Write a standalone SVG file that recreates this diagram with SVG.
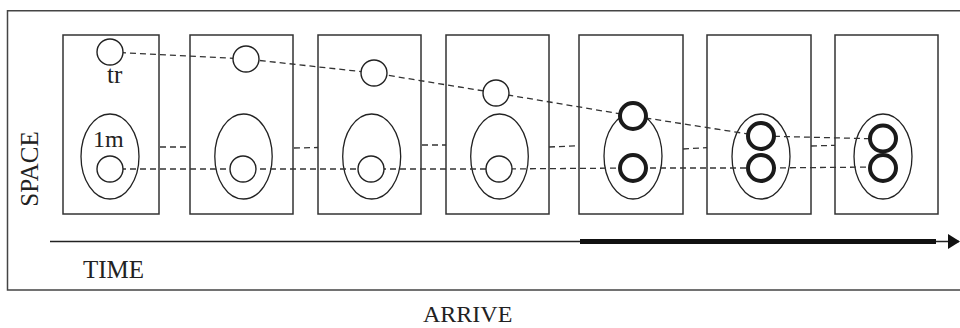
<svg xmlns="http://www.w3.org/2000/svg" width="960" height="328" viewBox="0 0 960 328">
<style>
.panel{fill:#fff;stroke:#333;stroke-width:1.5}
.ell{fill:none;stroke:#222;stroke-width:1.3}
.c{fill:#fff;stroke:#222;stroke-width:1.4}
.ct{fill:#fff;stroke:#1a1a1a;stroke-width:4}
.dash{fill:none;stroke:#333;stroke-width:1.3;stroke-dasharray:6 4}
text{font-family:"Liberation Serif","Times New Roman",serif;fill:#222}
</style>
<defs>
<marker id="ah" markerWidth="12" markerHeight="16" refX="11" refY="8" orient="auto" markerUnits="userSpaceOnUse">
<path d="M0,0.5 L12,8 L0,15.5 Z" fill="#111"/>
</marker>
</defs>
<path d="M960,10.7 H7.5 V290 H960" fill="none" stroke="#444" stroke-width="1.5"/>
<g id="panel1"><rect class="panel" x="63" y="35" width="96" height="179"/><ellipse class="ell" cx="110" cy="156.5" rx="29" ry="42.5"/></g>
<g id="panel2"><rect class="panel" x="190" y="35" width="103" height="179"/><ellipse class="ell" cx="243.5" cy="156.5" rx="28.7" ry="42.5"/></g>
<g id="panel3"><rect class="panel" x="318" y="35" width="103" height="179"/><ellipse class="ell" cx="371.7" cy="156.5" rx="29" ry="42.5"/></g>
<g id="panel4"><rect class="panel" x="446" y="35" width="103" height="179"/><ellipse class="ell" cx="499.5" cy="156.5" rx="28.8" ry="42.5"/></g>
<g id="panel5"><rect class="panel" x="579" y="35" width="104" height="179"/><ellipse class="ell" cx="633" cy="156" rx="29" ry="43"/></g>
<g id="panel6"><rect class="panel" x="707" y="35" width="104" height="179"/><ellipse class="ell" cx="761" cy="156.5" rx="29" ry="42.5"/></g>
<g id="panel7"><rect class="panel" x="835" y="35" width="103" height="179"/><ellipse class="ell" cx="883" cy="156.5" rx="29" ry="42.5"/></g>
<g id="connectors">
<polyline class="dash" points="110,52 246,59 374,73 496,93 633,116 761,136 883,139"/>
<polyline class="dash" points="110,169 243,169 371,169 499,169 633,168 761,168 883,167"/>
<line class="dash" x1="160" y1="147" x2="190" y2="147"/>
<line class="dash" x1="294" y1="148" x2="318" y2="147.5"/>
<line class="dash" x1="422" y1="145" x2="446" y2="145"/>
<line class="dash" x1="549" y1="147" x2="579" y2="145.7"/>
<line class="dash" x1="683" y1="149" x2="707" y2="147.7"/>
<line class="dash" x1="811" y1="146" x2="835" y2="145.3"/>
</g>
<g id="circles">
<circle class="c" cx="110" cy="52" r="13"/>
<circle class="c" cx="110" cy="169" r="13"/>
<circle class="c" cx="246" cy="59" r="13"/>
<circle class="c" cx="243" cy="169" r="13"/>
<circle class="c" cx="374" cy="73" r="13"/>
<circle class="c" cx="371" cy="169" r="13"/>
<circle class="c" cx="496" cy="93" r="13"/>
<circle class="c" cx="499" cy="169" r="13"/>
<circle class="ct" cx="633" cy="116" r="13"/>
<circle class="ct" cx="633" cy="168" r="13"/>
<circle class="ct" cx="761" cy="136" r="13"/>
<circle class="ct" cx="761" cy="168" r="13"/>
<circle class="ct" cx="883" cy="138.5" r="13"/>
<circle class="ct" cx="883" cy="168" r="13"/>
</g>
<g id="axis">
<line x1="50" y1="241.5" x2="959" y2="241.5" stroke="#222" stroke-width="1.3" marker-end="url(#ah)"/>
<line x1="580" y1="241.5" x2="936" y2="241.5" stroke="#111" stroke-width="5"/>
</g>
<text x="107" y="83" font-size="25">tr</text>
<text x="93" y="147" font-size="24">1m</text>
<text transform="translate(38,169) rotate(-90)" text-anchor="middle" font-size="25">SPACE</text>
<text x="83" y="278" font-size="25">TIME</text>
<text x="423" y="322" font-size="24">ARRIVE</text>
</svg>
